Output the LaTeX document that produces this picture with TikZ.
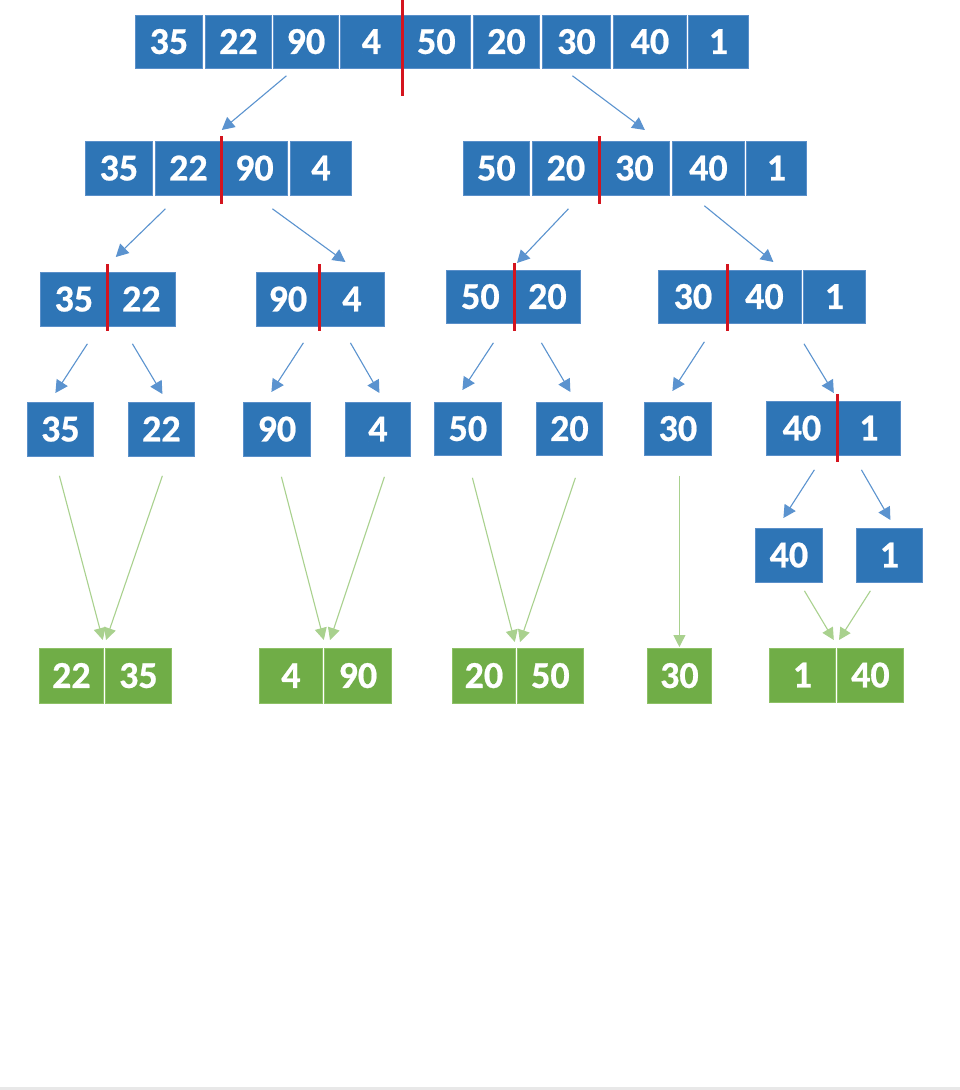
\documentclass[tikz,border=0pt]{standalone}
\usepackage{fontspec}
\setmainfont{Carlito}[BoldFeatures={FakeBold=0.6}]
\usetikzlibrary{arrows.meta,calc}
\definecolor{bfill}{HTML}{2E75B6}
\definecolor{bedge}{HTML}{5A8FC9}
\definecolor{gfill}{HTML}{70AD47}
\definecolor{gedge}{HTML}{8DC066}
\definecolor{barc}{HTML}{5B93CF}
\definecolor{garc}{HTML}{A9D18E}
\definecolor{redl}{HTML}{D4141E}
\newcommand\mkcell[7]{%
  \pgfmathsetmacro\cw{#3-#2}\pgfmathsetmacro\ch{#5-#4}%
  \node[#7, minimum width=\cw pt, minimum height=\ch pt, anchor=north west] (#1) at (#2,#4) {#6};}
\begin{document}
\begin{tikzpicture}[x=1pt,y=-1pt,
  cellbase/.style={inner sep=0pt, text=white, line width=0.8pt,
     font=\fontsize{38}{40}\selectfont\bfseries, text height=24pt, text depth=0pt},
  bcell/.style={cellbase, fill=bfill, draw=bedge},
  gcell/.style={cellbase, fill=gfill, draw=gedge},
  barrow/.style={draw=barc, line width=1.1pt, -{Triangle[length=12.5pt,width=13pt]}},
  garrow/.style={draw=garc, line width=1.1pt, -{Triangle[length=12pt,width=12pt]}},
  divider/.style={draw=redl, line width=3pt}]
\useasboundingbox (0,0) rectangle (960,1090);
\fill[white] (0,0) rectangle (960,1090);
\fill[black!9] (0,1087) rectangle (960,1090);
% row 1
\mkcell{t1}{135}{202}{15}{68}{35}{bcell}
\mkcell{t2}{205}{271}{15}{68}{22}{bcell}
\mkcell{t3}{273}{338}{15}{68}{90}{bcell}
\mkcell{t4}{340}{402}{15}{68}{4}{bcell}
\mkcell{t5}{402}{470}{15}{68}{50}{bcell}
\mkcell{t6}{473}{539}{15}{68}{20}{bcell}
\mkcell{t7}{542}{610}{15}{68}{30}{bcell}
\mkcell{t8}{613}{686}{15}{68}{40}{bcell}
\mkcell{t9}{688}{748}{15}{68}{1}{bcell}
\draw[divider] (402,0) -- (402,96);
% row 2
\mkcell{l1}{85}{152}{141}{195}{35}{bcell}
\mkcell{l2}{155}{221}{141}{195}{22}{bcell}
\mkcell{l3}{221}{287}{141}{195}{90}{bcell}
\mkcell{l4}{290}{351}{141}{195}{4}{bcell}
\draw[divider] (221.5,136) -- (221.5,204);
\mkcell{r1}{463}{529}{141}{195}{50}{bcell}
\mkcell{r2}{532}{599}{141}{195}{20}{bcell}
\mkcell{r3}{599}{669}{141}{195}{30}{bcell}
\mkcell{r4}{672}{744}{141}{195}{40}{bcell}
\mkcell{r5}{746}{806}{141}{195}{1}{bcell}
\draw[divider] (599.5,136) -- (599.5,204);
% row 3
\mkcell{a1}{40}{107}{272}{326}{35}{bcell}
\mkcell{a2}{107}{175}{272}{326}{22}{bcell}
\draw[divider] (107.5,264) -- (107.5,331);
\mkcell{b1}{256}{319}{272}{326}{90}{bcell}
\mkcell{b2}{319}{384}{272}{326}{4}{bcell}
\draw[divider] (319.3,264) -- (319.3,331);
\mkcell{c1}{446}{514}{270}{323}{50}{bcell}
\mkcell{c2}{514}{580}{270}{323}{20}{bcell}
\draw[divider] (514,263) -- (514,331);
\mkcell{d1}{658}{727}{270}{323}{30}{bcell}
\mkcell{d2}{727}{801}{270}{323}{40}{bcell}
\mkcell{d3}{803}{865}{270}{323}{1}{bcell}
\draw[divider] (727,264) -- (727,331);
% row 4
\mkcell{e1}{27}{93}{402}{456}{35}{bcell}
\mkcell{e2}{128}{194}{402}{456}{22}{bcell}
\mkcell{e3}{243}{310}{402}{456}{90}{bcell}
\mkcell{e4}{345}{410}{402}{456}{4}{bcell}
\mkcell{e5}{434}{501}{402}{455}{50}{bcell}
\mkcell{e6}{536}{602}{402}{455}{20}{bcell}
\mkcell{e7}{644}{711}{402}{455}{30}{bcell}
\mkcell{f1}{766}{837}{401}{455}{40}{bcell}
\mkcell{f2}{837}{900}{401}{455}{1}{bcell}
\draw[divider] (837.3,394) -- (837.3,462);
% row 5
\mkcell{g1}{755}{822}{528}{582}{40}{bcell}
\mkcell{g2}{856}{922}{528}{582}{1}{bcell}
% green row
\mkcell{h1}{39}{103}{648}{703}{22}{gcell}
\mkcell{h2}{105}{171}{648}{703}{35}{gcell}
\mkcell{h3}{259}{322}{648}{703}{4}{gcell}
\mkcell{h4}{324}{391}{648}{703}{90}{gcell}
\mkcell{h5}{452}{515}{648}{703}{20}{gcell}
\mkcell{h6}{517}{583}{648}{703}{50}{gcell}
\mkcell{h7}{647}{711}{648}{703}{30}{gcell}
\mkcell{h8}{769}{835}{648}{702}{1}{gcell}
\mkcell{h9}{837}{903}{648}{702}{40}{gcell}
% blue arrows
\draw[barrow] ($(t3.south)+(-19.5,7)$) -- ($(l2.north east)+(0,-11)$);
\draw[barrow] ($(t7.south)+(-4,7)$) -- ($(r3.north)+(10.5,-11)$);
\draw[barrow] ($(l1.south)+(46.5,13)$) -- ($(a1.north east)+(8,-15)$);
\draw[barrow] ($(l4.south)+(-48.5,13)$) -- ($(b2.north)+(-6.5,-10)$);
\draw[barrow] ($(r2.south)+(2.5,13)$) -- ($(c2.north west)+(3,-7)$);
\draw[barrow] ($(r4.south)+(-4,10)$) -- ($(d2.north)+(9,-8)$);
\draw[barrow] ($(a1.south)+(13.5,17)$) -- ($(e1.north)+(-5,-9)$);
\draw[barrow] ($(a2.south)+(-9,17)$) -- ($(e2.north)+(1,-8)$);
\draw[barrow] ($(b1.south)+(15.5,16)$) -- ($(e3.north)+(-5.5,-10)$);
\draw[barrow] ($(b2.south)+(-1.5,16)$) -- ($(e4.north)+(1.5,-9)$);
\draw[barrow] ($(c1.south)+(13,19)$) -- ($(e5.north)+(-5.5,-12)$);
\draw[barrow] ($(c2.south)+(-6,19)$) -- ($(e6.north)+(1,-10)$);
\draw[barrow] ($(d1.south)+(11.5,18)$) -- ($(e7.north)+(-5.5,-11)$);
\draw[barrow] ($(d3.south west)+(1,20)$) -- ($(f1.north east)+(-4,-8)$);
\draw[barrow] ($(f1.south)+(12.5,14)$) -- ($(g1.north)+(-5.5,-10)$);
\draw[barrow] ($(f2.south)+(-7.5,14)$) -- ($(g2.north)+(1,-8)$);
% green arrows
\draw[garrow] ($(e1.south)+(-1,19)$) -- ($(h1.north east)+(-1,-8)$);
\draw[garrow] ($(e2.south)+(1,19)$) -- ($(h2.north west)+(1,-8)$);
\draw[garrow] ($(e3.south)+(4.5,20)$) -- ($(h3.north east)+(1,-8)$);
\draw[garrow] ($(e4.south)+(6.5,20)$) -- ($(h4.north west)+(6,-8)$);
\draw[garrow] ($(e5.south)+(4.5,22)$) -- ($(h5.north east)+(-1,-6)$);
\draw[garrow] ($(e6.south)+(6,22)$) -- ($(h6.north west)+(3,-6)$);
\draw[garrow] ($(e7.south)+(1.5,20)$) -- ($(h7.north)+(0,-1)$);
\draw[garrow] ($(g1.south)+(15.5,8)$) -- ($(h8.north east)+(-2,-8)$);
\draw[garrow] ($(g2.south)+(-19,8)$) -- ($(h9.north west)+(2,-8)$);
\end{tikzpicture}
\end{document}
